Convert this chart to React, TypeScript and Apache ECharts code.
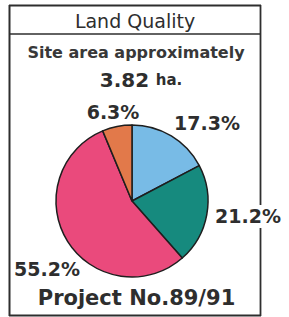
import React, { useEffect, useRef } from "react";
import * as echarts from "echarts";

const categories = ["Category A", "Category B", "Category C", "Category D"];
const values = [17.3, 21.2, 55.2, 6.3];
const colors = ["#78bbe6", "#168a7e", "#ea4a7c", "#e2794a"];
const titleText = "Land Quality";
const subtitleText = "Site area approximately";
const areaValue = "3.82";
const areaUnit = "ha.";
const footerText = "Project No.89/91";

const labelPos = [
  { x: 207, y: 123 },
  { x: 248, y: 216 },
  { x: 47, y: 269 },
  { x: 113, y: 112 },
];

export default function App() {
  const ref = useRef<HTMLDivElement>(null);
  useEffect(() => {
    if (!ref.current) return;
    const chart = echarts.init(ref.current, undefined, { renderer: "svg" });
    const ink = "#2e2e2e";
    const font = "DejaVu Sans";
    chart.setOption({
      animation: false,
      backgroundColor: "#ffffff",
      graphic: [
        { type: "line", shape: { x1: 9.5, y1: 5, x2: 9.5, y2: 316 }, style: { stroke: ink, lineWidth: 2 } },
        { type: "line", shape: { x1: 9, y1: 5.5, x2: 261, y2: 5.5 }, style: { stroke: ink, lineWidth: 2 } },
        { type: "line", shape: { x1: 9, y1: 34, x2: 261, y2: 34 }, style: { stroke: ink, lineWidth: 1.5 } },
        { type: "line", shape: { x1: 9, y1: 315.5, x2: 261, y2: 315.5 }, style: { stroke: ink, lineWidth: 2 } },
        { type: "line", shape: { x1: 260.5, y1: 5, x2: 260.5, y2: 205 }, style: { stroke: ink, lineWidth: 1.8 } },
        { type: "line", shape: { x1: 260.5, y1: 228, x2: 260.5, y2: 316 }, style: { stroke: ink, lineWidth: 1.8 } },
        {
          type: "text", x: 135, y: 21,
          style: { text: titleText, font: `19px '${font}'`, fill: ink, align: "center", verticalAlign: "middle" },
        },
        {
          type: "text", x: 136, y: 52,
          style: { text: subtitleText, font: `bold 16px '${font}'`, fill: "#383838", align: "center", verticalAlign: "middle" },
        },
        {
          type: "text", x: 141, y: 80,
          style: {
            text: `{a|${areaValue}}  {b|${areaUnit}}`,
            rich: {
              a: { fontFamily: font, fontWeight: "bold", fontSize: 20, fill: ink, color: ink },
              b: { fontFamily: font, fontWeight: "bold", fontSize: 15, fill: ink, color: ink },
            },
            align: "center", verticalAlign: "middle",
          },
        },
        {
          type: "text", x: 136.5, y: 298,
          style: { text: footerText, font: `bold 21px '${font}'`, fill: ink, align: "center", verticalAlign: "middle" },
        },
      ],
      series: [
        {
          type: "pie",
          center: [132, 201],
          radius: 76,
          startAngle: 90,
          clockwise: true,
          avoidLabelOverlap: false,
          itemStyle: { borderColor: "#1e1e1e", borderWidth: 1.5 },
          label: {
            show: true,
            position: "outside",
            formatter: (p: any) => `${p.value}%`,
            fontFamily: font,
            fontWeight: "bold",
            fontSize: 19,
            color: ink,
          },
          labelLine: { show: false },
          labelLayout: (p: any) => ({
            x: labelPos[p.dataIndex].x,
            y: labelPos[p.dataIndex].y,
            align: "center",
            verticalAlign: "middle",
          }),
          data: categories.map((c, i) => ({
            name: c,
            value: values[i],
            itemStyle: { color: colors[i] },
          })),
        },
      ],
    });
    return () => chart.dispose();
  }, []);
  return (
    <div
      ref={ref}
      style={{ position: "fixed", left: 0, top: 0, width: 289, height: 317 }}
    />
  );
}
